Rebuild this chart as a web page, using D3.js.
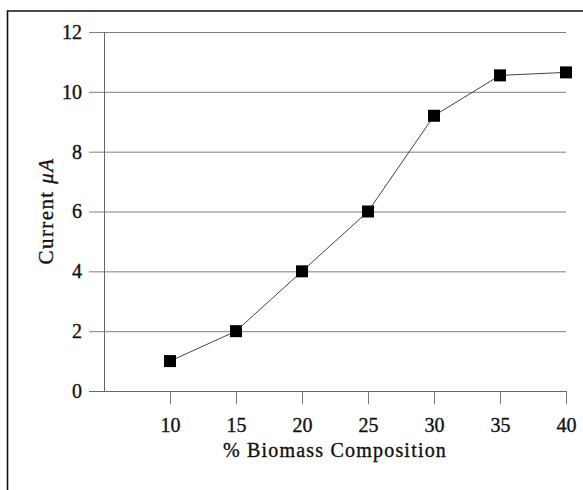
<!DOCTYPE html>
<html>
<head>
<meta charset="utf-8">
<script src="https://cdn.jsdelivr.net/npm/d3@7"></script>
<style>
    body { margin: 0; background: #fff; }
    svg { display: block; font-family: "Liberation Serif", "Times New Roman", serif; }
    svg text { stroke: #111; stroke-width: 0.35px; }
</style>
</head>
<body>
<svg id="chart" width="583" height="490"></svg>
<script>
// values
const composition = [10, 15, 20, 25, 30, 35, 40];
const current = [1, 2, 4, 6, 9.2, 10.55, 10.65];
const xTicks = [10, 15, 20, 25, 30, 35, 40];
const yTicks = [0, 2, 4, 6, 8, 10, 12];

const width = 583;
const height = 490;
const plotLeft = 104, plotRight = 566, plotTop = 32, plotBottom = 391;

const svg = d3.select(`#chart`);

const xScale = d3.scaleLinear()
    .domain([5, 40])
    .range([plotLeft, plotRight]);

const yScale = d3.scaleLinear()
    .domain([0, 12])
    .range([plotBottom, plotTop]);

// frame (only left and top edges show in the scan)
svg.append(`path`)
    .attr(`d`, `M7.5,${height} V11 H${width}`)
    .attr(`fill`, `none`)
    .attr(`stroke`, `#111`)
    .attr(`stroke-width`, 1.6);

// horizontal grid, running out past the axis as the tick marks
const grid = svg.append(`g`)
    .attr(`transform`, `translate(${plotLeft}, 0)`)
    .call(d3.axisLeft(yScale)
        .tickValues(yTicks)
        .tickSize(-(plotRight - plotLeft))
        .tickFormat(``));
grid.select(`.domain`).remove();
grid.selectAll(`line`)
    .attr(`stroke`, `#808080`)
    .attr(`x1`, -15);

const yAxis = svg.append(`g`)
    .attr(`transform`, `translate(${plotLeft}, 0)`)
    .call(d3.axisLeft(yScale)
        .tickValues(yTicks)
        .tickSize(0)
        .tickPadding(22));
yAxis.select(`.domain`)
    .attr(`stroke`, `#666`)
    .attr(`d`, `M0.5,${plotBottom + 0.5} V${plotTop}`);
yAxis.selectAll(`text`)
    .attr(`font-size`, 20)
    .attr(`font-family`, `"Liberation Serif", serif`)
    .attr(`fill`, `#111`);

const xAxis = svg.append(`g`)
    .attr(`transform`, `translate(0, ${plotBottom})`)
    .call(d3.axisBottom(xScale)
        .tickValues(xTicks)
        .tickSize(13)
        .tickPadding(14));
xAxis.select(`.domain`)
    .attr(`stroke`, `#666`)
    .attr(`d`, `M${plotLeft - 15},0.5 H${plotRight}`);
xAxis.selectAll(`line`).attr(`stroke`, `#777`);
xAxis.selectAll(`text`)
    .attr(`font-size`, 20)
    .attr(`font-family`, `"Liberation Serif", serif`)
    .attr(`fill`, `#111`);

// axis titles
svg.append(`text`)
    .attr(`x`, 335)
    .attr(`y`, 457)
    .attr(`text-anchor`, `middle`)
    .attr(`font-size`, 20)
    .attr(`letter-spacing`, 1.2)
    .attr(`fill`, `#111`)
    .text(`% Biomass Composition`);

const yTitle = svg.append(`text`)
    .attr(`transform`, `translate(53, 211) rotate(-90)`)
    .attr(`text-anchor`, `middle`)
    .attr(`font-size`, 21)
    .attr(`letter-spacing`, 1.4)
    .attr(`fill`, `#111`);
yTitle.append(`tspan`).text(`Current  `);
yTitle.append(`tspan`).attr(`font-style`, `italic`).text(`μA`);

// series
const line = d3.line()
    .x((d, i) => xScale(composition[i]))
    .y(d => yScale(d));

svg.append(`path`)
    .datum(current)
    .attr(`d`, line)
    .attr(`fill`, `none`)
    .attr(`stroke`, `#444`)
    .attr(`stroke-width`, 1);

const size = 12;
svg.selectAll(`rect.point`)
    .data(current)
    .enter()
    .append(`rect`)
    .attr(`class`, `point`)
    .attr(`x`, (d, i) => xScale(composition[i]) - size / 2)
    .attr(`y`, d => yScale(d) - size / 2)
    .attr(`width`, size)
    .attr(`height`, size)
    .attr(`fill`, `#000`);
</script>
</body>
</html>
